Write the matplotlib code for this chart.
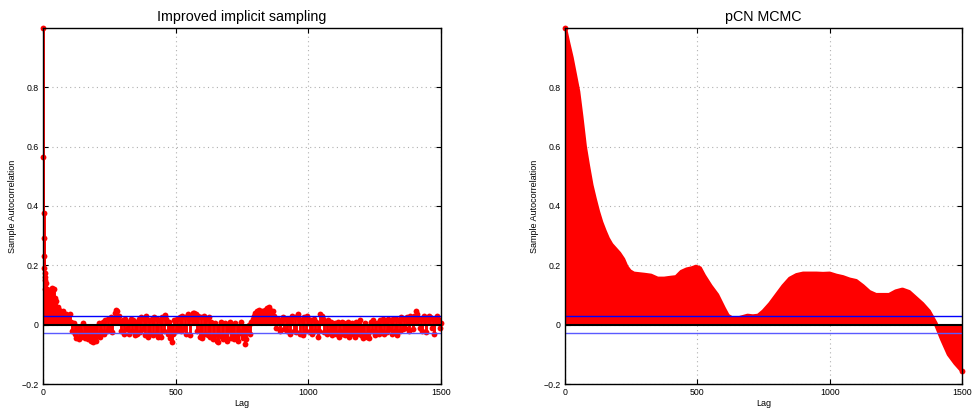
import numpy as np
import matplotlib
matplotlib.use("Agg")
import matplotlib.pyplot as plt

plt.rcParams['font.family'] = ['Liberation Sans', 'DejaVu Sans']

# ---------------- data ----------------
titles = ["Improved implicit sampling", "pCN MCMC"]
xlabel = "Lag"
ylabel = "Sample Autocorrelation"
conf_bound = 0.028

# Left: first lags individually (0..20)
iis_early_lags = list(range(0, 21))
iis_early_vals = [1.0, 0.565, 0.378, 0.292, 0.23, 0.19, 0.175, 0.16, 0.15, 0.12,
                  0.14, 0.10, 0.11, 0.09, 0.12, 0.08, 0.10, 0.07, 0.09, 0.08, 0.06]
# Left: lags 25..1500, every 5 lags
iis_vals = [
    0.09, 0.11, 0.125, 0.12, 0.09, 0.08, 0.06, 0.05, 0.045, 0.04,
    0.045, 0.03, 0.035, 0.015, 0.025, 0.035, 0.01, -0.02, 0.005, -0.03,
    -0.045, -0.01, -0.05, -0.02, -0.04, 0.005, -0.03, -0.045, -0.02, -0.05,
    -0.03, -0.055, -0.04, -0.06, -0.05, -0.055, -0.03, 0.005, -0.04, -0.02,
    0.01, -0.03, 0.015, -0.02, 0.02, -0.01, 0.025, -0.025, 0.02, 0.04,
    0.048, 0.045, 0.03, 0.01, -0.02, 0.015, -0.03, 0.02, -0.015, 0.01,
    -0.03, 0.02, -0.02, 0.015, -0.035, 0.01, -0.03, 0.02, -0.025, 0.025,
    -0.015, 0.02, -0.035, 0.03, -0.04, 0.015, -0.03, 0.02, -0.035, 0.025,
    -0.03, 0.02, -0.04, 0.015, -0.042, 0.025, -0.02, 0.033, 0.02, -0.03,
    0.01, -0.045, -0.06, -0.03, 0.015, -0.02, 0.02, -0.01, 0.025, -0.02,
    0.03, -0.015, 0.025, -0.03, 0.035, 0.02, -0.035, 0.03, 0.038, 0.04,
    0.035, -0.02, 0.03, -0.04, 0.025, -0.045, 0.03, -0.03, 0.02, -0.035,
    0.025, -0.04, 0.01, -0.05, -0.035, 0.005, -0.055, -0.06, -0.03, 0.01,
    -0.04, -0.05, 0.005, -0.035, -0.055, -0.02, 0.01, -0.045, -0.03, -0.05,
    0.005, -0.04, -0.055, -0.02, 0.01, -0.03, -0.045, -0.065, -0.05, -0.02,
    0.0, -0.03, 0.01, 0.02, 0.03, 0.04, 0.045, 0.035, 0.05, 0.04,
    0.045, 0.03, 0.05, 0.04, 0.055, 0.06, 0.05, 0.04, 0.045, 0.03,
    0.02, -0.01, 0.02, 0.01, -0.02, 0.015, 0.025, -0.015, 0.02, -0.02,
    0.02, -0.03, 0.01, 0.03, -0.02, 0.025, -0.025, 0.035, 0.02, -0.03,
    0.015, -0.035, 0.025, -0.02, 0.03, 0.02, -0.025, 0.015, -0.03, 0.02,
    -0.02, 0.01, -0.042, -0.02, 0.035, 0.03, 0.02, -0.025, 0.01, -0.03,
    0.015, -0.02, 0.01, -0.035, -0.02, 0.005, -0.03, 0.01, -0.04, -0.02,
    0.01, -0.03, 0.005, -0.035, -0.02, 0.01, -0.04, -0.025, 0.005, -0.03,
    -0.04, 0.01, -0.03, -0.02, 0.015, -0.035, -0.045, -0.03, 0.005, -0.04,
    -0.03, -0.045, 0.01, -0.02, 0.015, -0.035, -0.025, 0.005, -0.03, 0.015,
    -0.02, 0.02, -0.03, 0.01, -0.025, 0.02, -0.015, 0.015, -0.03, 0.02,
    -0.02, 0.02, -0.035, 0.015, -0.02, 0.025, -0.015, 0.02, -0.01, 0.025,
    0.01, -0.02, 0.03, 0.02, -0.015, 0.03, 0.045, 0.035, 0.02, -0.01,
    0.02, -0.02, 0.03, 0.015, -0.025, 0.02, 0.03, 0.025, -0.01, 0.02,
    -0.03, 0.015, 0.03, 0.02, -0.01, 0.005,
]
iis_lags = list(range(25, 25 + 5 * len(iis_vals), 5))

# Right: pCN MCMC
pcn_lags = [0, 12, 25, 37, 50, 62, 75, 87, 100, 112, 125, 137, 150, 162, 175,
            190, 205, 220, 232, 245, 260, 280, 300, 325, 350, 375, 400, 420,
            440, 460, 480, 495, 510, 525, 550, 575, 600, 615, 630, 650, 670,
            690, 710, 730, 750, 775, 800, 825, 850, 875, 900, 925, 950, 975,
            1000, 1025, 1050, 1075, 1100, 1125, 1150, 1175, 1200, 1225, 1250,
            1275, 1300, 1325, 1350, 1375, 1400, 1425, 1450, 1475, 1500]
pcn_vals = [1.0, 0.95, 0.90, 0.845, 0.785, 0.70, 0.60, 0.535, 0.47, 0.425,
            0.38, 0.345, 0.315, 0.29, 0.27, 0.255, 0.24, 0.22, 0.195, 0.18,
            0.172, 0.17, 0.168, 0.165, 0.155, 0.155, 0.158, 0.16, 0.178, 0.186,
            0.19, 0.195, 0.19, 0.165, 0.13, 0.10, 0.055, 0.03, 0.022, 0.02,
            0.025, 0.03, 0.028, 0.03, 0.045, 0.07, 0.10, 0.13, 0.155, 0.167,
            0.172, 0.172, 0.172, 0.171, 0.172, 0.165, 0.16, 0.152, 0.147, 0.13,
            0.11, 0.10, 0.10, 0.10, 0.112, 0.118, 0.11, 0.09, 0.07, 0.045,
            0.005, -0.05, -0.10, -0.13, -0.155]

yticks = [-0.2, 0, 0.2, 0.4, 0.6, 0.8]
ytick_labels = ["\u22120.2", "0", "0.2", "0.4", "0.6", "0.8"]
xticks = [0, 500, 1000, 1500]

# ---------------- figure ----------------
fig = plt.figure(figsize=(9.74, 4.11), dpi=100)
ax1 = fig.add_axes([43 / 974, 1 - 384 / 411, 398 / 974, 356 / 411])
ax2 = fig.add_axes([565 / 974, 1 - 384 / 411, 397 / 974, 356 / 411])

red = '#ff0000'

# left stems
lx = np.array(iis_early_lags + iis_lags)
ly = np.array(iis_early_vals + iis_vals)
ax1.vlines(lx, 0, ly, color=red, lw=2.1, zorder=2)
ax1.plot(lx, ly, 'o', color=red, ms=4.2, mec=red, mew=0, zorder=3, clip_on=False)

# right (dense stems appear as filled area)
px = np.array(pcn_lags)
py = np.array(pcn_vals)
ax2.fill_between(px, 0, py, color=red, lw=0, zorder=2)
ax2.plot(px, py, '-', color=red, lw=3.0, zorder=3, solid_capstyle='round',
         solid_joinstyle='round')
ax2.plot([px[0], px[-1]], [py[0], py[-1]], 'o', color=red, ms=4.2, mew=0,
         zorder=3, clip_on=False)

for ax, title in zip((ax1, ax2), titles):
    ax.axhline(0, color='black', lw=1.5, zorder=4)
    ax.axhline(conf_bound, color='#0000ff', lw=1.0, zorder=5)
    ax.axhline(-conf_bound, color='#5a5aff', lw=1.0, zorder=5)
    ax.set_xlim(0, 1500)
    ax.set_ylim(-0.2, 1.0)
    ax.set_xticks(xticks)
    ax.set_xticklabels([str(t) for t in xticks])
    ax.set_yticks(yticks)
    ax.set_yticklabels(ytick_labels)
    ax.tick_params(direction='in', length=3.5, width=0.8, labelsize=6.3,
                   top=True, right=True, pad=3, colors='black')
    ax.grid(True, color='#b0b0b0', linestyle=(0, (1, 3)), lw=0.8)
    ax.set_axisbelow(True)
    for s in ax.spines.values():
        s.set_linewidth(1.0)
        s.set_color('black')
        s.set_zorder(6)
    ax.set_title(title, fontsize=10.3, pad=5)
    ax.set_xlabel(xlabel, fontsize=6.5, labelpad=1)
    ax.set_ylabel(ylabel, fontsize=6.5, labelpad=3)

fig.savefig("out.png", dpi=100)
